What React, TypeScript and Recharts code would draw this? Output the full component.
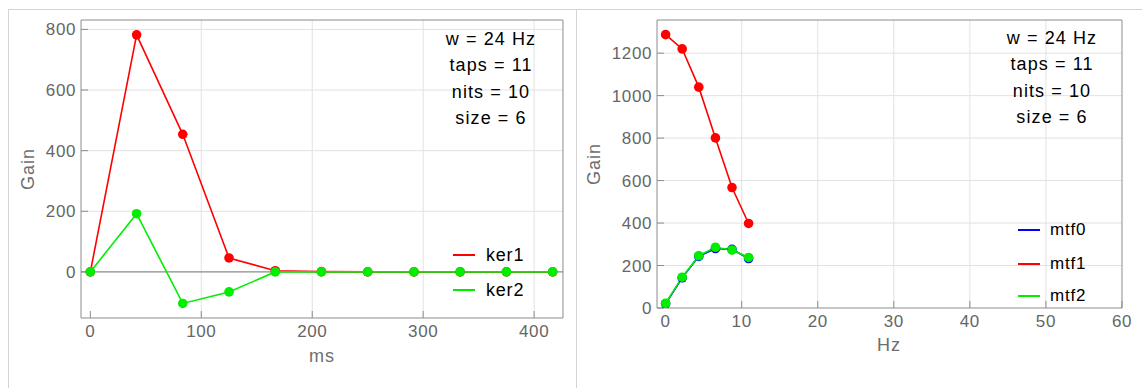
import React from "react";
import { Line, LineChart, ReferenceLine, XAxis, YAxis } from "recharts";

// kernel taps (ms) and gains
const kerTimes = [0, 41.7, 83.3, 125, 166.7, 208.3, 250, 291.7, 333.3, 375, 416.7];
const ker1 = [0, 782, 454, 46, 4, 1, 0, 0, 0, 0, 0];
const ker2 = [0, 192, -104, -66, 0, 0, 0, 0, 0, 0, 0];

// transfer functions (Hz)
const mtfFreqs = [0, 2.18, 4.36, 6.55, 8.73, 10.91];
const mtf0 = [20, 142, 243, 280, 276, 233];
const mtf1 = [1287, 1220, 1040, 801, 567, 398];
const mtf2 = [22, 145, 246, 286, 273, 238];

const msTicks = [0, 100, 200, 300, 400];
const msMinor = [20, 40, 60, 80, 120, 140, 160, 180, 220, 240, 260, 280, 320, 340, 360, 380, 420];
const kerGainTicks = [0, 200, 400, 600, 800];
const kerGainMinor = [-150, -100, -50, 50, 100, 150, 250, 300, 350, 450, 500, 550, 650, 700, 750];

const hzTicks = [0, 10, 20, 30, 40, 50, 60];
const hzMinor = [2, 4, 6, 8, 12, 14, 16, 18, 22, 24, 26, 28, 32, 34, 36, 38, 42, 44, 46, 48, 52, 54, 56, 58];
const mtfGainTicks = [0, 200, 400, 600, 800, 1000, 1200];
const mtfGainMinor = [50, 100, 150, 250, 300, 350, 450, 500, 550, 650, 700, 750, 850, 900, 950, 1050, 1100, 1150, 1250, 1300, 1350];

const infoLines = ["w = 24 Hz", "taps = 11", "nits = 10", "size = 6"];
const kerSeries = ["ker1", "ker2"];
const mtfSeries = ["mtf0", "mtf1", "mtf2"];

const FONT = '"Liberation Sans", Arial, sans-serif';
const FRAME = "#8c8c8c";
const GRID = "#e2e2e2";
const TICK = "#666666";
const THIN = 0.01; // axes take no room; labels spill into the margins
const colors: Record<string, string> = {
  ker1: "#ff0000",
  ker2: "#00ee00",
  mtf0: "#0000ff",
  mtf1: "#ff0000",
  mtf2: "#00ee00",
};

const kerData = kerTimes.map((x, i) => ({ x, ker1: ker1[i], ker2: ker2[i] }));
const mtfData = mtfFreqs.map((x, i) => ({ x, mtf0: mtf0[i], mtf1: mtf1[i], mtf2: mtf2[i] }));

const tickText = { fill: TICK, fontSize: 17, fontFamily: FONT, letterSpacing: 0.6 };

function frameAxes(
  xDomain: [number, number],
  yDomain: [number, number],
  xMajor: number[],
  xMinor: number[],
  yMajor: number[],
  yMinor: number[]
) {
  const common = { type: "number" as const, allowDataOverflow: true, interval: 0 as const, stroke: FRAME };
  return [
    <XAxis key="xb" xAxisId="main" dataKey="x" domain={xDomain} ticks={xMajor} height={THIN}
      tickSize={-7} tickMargin={14} tick={tickText} {...common} />,
    <XAxis key="xbm" xAxisId="bMinor" domain={xDomain} ticks={xMinor} height={THIN}
      tickSize={-4} tick={false} axisLine={false} {...common} />,
    <XAxis key="xt" xAxisId="tMajor" orientation="top" domain={xDomain} ticks={xMajor} height={THIN}
      tickSize={-7} tick={false} {...common} />,
    <XAxis key="xtm" xAxisId="tMinor" orientation="top" domain={xDomain} ticks={xMinor} height={THIN}
      tickSize={-4} tick={false} axisLine={false} {...common} />,
    <YAxis key="yl" yAxisId="main" domain={yDomain} ticks={yMajor} width={THIN}
      tickSize={-7} tickMargin={12} tick={tickText} {...common} />,
    <YAxis key="ylm" yAxisId="lMinor" domain={yDomain} ticks={yMinor} width={THIN}
      tickSize={-4} tick={false} axisLine={false} {...common} />,
    <YAxis key="yr" yAxisId="rMajor" orientation="right" domain={yDomain} ticks={yMajor} width={THIN}
      tickSize={-7} tick={false} {...common} />,
    <YAxis key="yrm" yAxisId="rMinor" orientation="right" domain={yDomain} ticks={yMinor} width={THIN}
      tickSize={-4} tick={false} axisLine={false} {...common} />,
  ];
}

function series(keys: string[]) {
  return keys.map((k) => (
    <Line key={k} xAxisId="main" yAxisId="main" type="linear" dataKey={k}
      stroke={colors[k]} strokeWidth={1.6}
      dot={{ r: 4.8, fill: colors[k], stroke: colors[k], strokeWidth: 0 }}
      activeDot={false} isAnimationActive={false} />
  ));
}

function grid(xs: number[], ys: number[]) {
  return [
    ...xs.map((v) => (
      <ReferenceLine key={"gx" + v} xAxisId="main" yAxisId="main" x={v} stroke={GRID} strokeWidth={1} />
    )),
    ...ys.map((v) => (
      <ReferenceLine key={"gy" + v} xAxisId="main" yAxisId="main" y={v} stroke={GRID} strokeWidth={1} />
    )),
  ];
}

const abs = (left: number, top: number): React.CSSProperties => ({ position: "absolute", left, top });

function Info({ cx, top }: { cx: number; top: number }) {
  return (
    <>
      {infoLines.map((t, i) => (
        <div key={t} style={{ ...abs(cx - 80, top + i * 26.5), width: 160, textAlign: "center",
          fontSize: 18, lineHeight: "20px", letterSpacing: 1.1, color: "#000" }}>{t}</div>
      ))}
    </>
  );
}

function Legend({ keys, x, ys, size }: { keys: string[]; x: number; ys: number[]; size: number }) {
  return (
    <>
      {keys.map((k, i) => (
        <div key={k} style={{ ...abs(x, ys[i] - 10), height: 20, display: "flex", alignItems: "center" }}>
          <div style={{ width: 22, height: 2, background: colors[k] }} />
          <span style={{ marginLeft: size > 17 ? 11 : 10, fontSize: size, letterSpacing: 0.8, color: "#000" }}>{k}</span>
        </div>
      ))}
    </>
  );
}

function AxisTitle({ text, cx, cy, rotate }: { text: string; cx: number; cy: number; rotate?: boolean }) {
  return (
    <div style={{ ...abs(cx - 40, cy - 10), width: 80, height: 20, lineHeight: "20px", textAlign: "center",
      fontSize: 18, letterSpacing: 1, color: "#6e6e6e", transform: rotate ? "rotate(-90deg)" : undefined }}>
      {text}
    </div>
  );
}

export default function App() {
  return (
    <div style={{ position: "absolute", left: 0, top: 0, width: 1142, height: 388, background: "#fff",
      fontFamily: FONT, overflow: "hidden" }}>
      <div style={{ ...abs(8, 9), width: 1134, height: 379, borderTop: "1px solid #d4d4d4", borderLeft: "1px solid #d4d4d4" }} />
      <div style={{ ...abs(576, 9), width: 1, height: 379, background: "#d4d4d4" }} />

      <div style={abs(0, 0)}>
        <LineChart width={576} height={388} data={kerData} margin={{ top: 20, right: 13, bottom: 70, left: 81 }}>
          {grid([100, 200, 300, 400], [200, 400, 600, 800])}
          <ReferenceLine xAxisId="main" yAxisId="main" y={0} stroke="#8a8a8a" strokeWidth={1.4} />
          {frameAxes([-8.4, 426], [-152, 831], msTicks, msMinor, kerGainTicks, kerGainMinor)}
          {series(kerSeries)}
        </LineChart>
      </div>

      <div style={abs(576, 0)}>
        <LineChart width={566} height={388} data={mtfData} margin={{ top: 20, right: 20, bottom: 80, left: 81 }}>
          {grid([10, 20, 30, 40, 50], [200, 400, 600, 800, 1000, 1200])}
          {frameAxes([-1.13, 60], [0, 1356], hzTicks, hzMinor, mtfGainTicks, mtfGainMinor)}
          {series(mtfSeries)}
        </LineChart>
      </div>

      <AxisTitle text="Gain" cx={28} cy={169} rotate />
      <AxisTitle text="ms" cx={322} cy={356} />
      <AxisTitle text="Gain" cx={594} cy={164} rotate />
      <AxisTitle text="Hz" cx={889} cy={345} />

      <Info cx={491} top={28.5} />
      <Info cx={1052} top={27.5} />

      <Legend keys={kerSeries} x={453} ys={[255, 290]} size={18} />
      <Legend keys={mtfSeries} x={1018} ys={[230, 263.5, 295.5]} size={17} />
    </div>
  );
}
